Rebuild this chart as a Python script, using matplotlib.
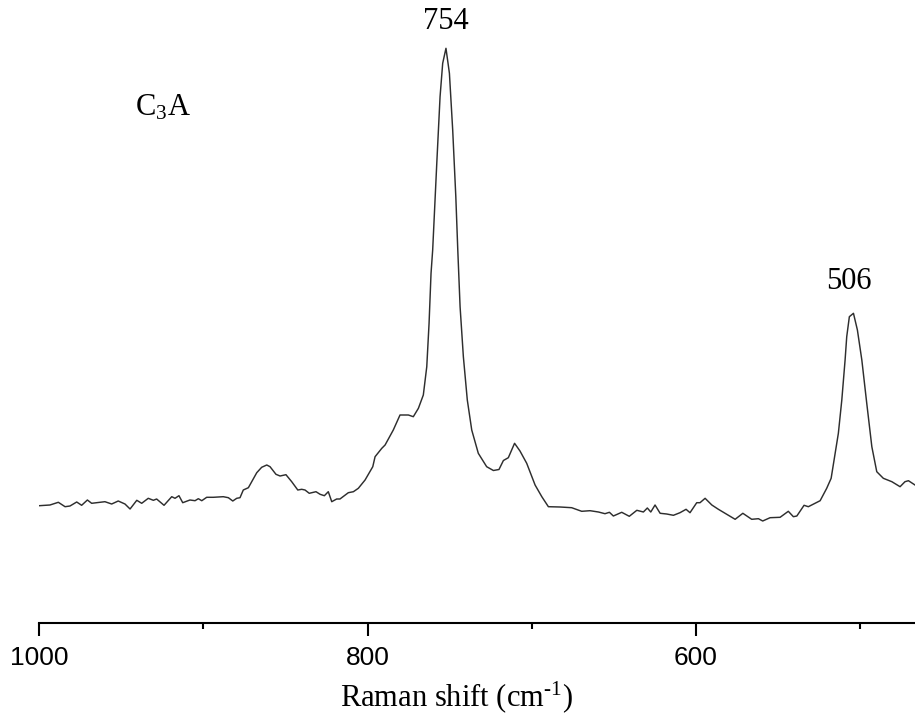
import matplotlib
matplotlib.use("Agg")
import matplotlib.pyplot as plt
from matplotlib.ticker import MultipleLocator

plt.rcParams['mathtext.fontset'] = 'custom'
plt.rcParams['mathtext.rm'] = 'Liberation Serif'
plt.rcParams['mathtext.it'] = 'Liberation Serif:italic'

# Raman spectrum of C3A (wavenumber in cm-1, intensity in a.u.)
wavenumber = [1000.0, 993.5, 988.4, 984.3, 981.3, 977.2, 974.2, 970.7, 968.1, 960.0,
              955.9, 951.9, 947.8, 944.7, 940.6, 937.6, 933.6, 930.5, 928.5, 924.0,
              919.3, 917.3, 914.9, 912.6, 908.2, 905.1, 903.1, 901.0, 898.0, 894.0,
              887.9, 884.8, 882.1, 879.7, 877.7, 875.7, 872.6, 867.5, 864.5, 861.4,
              859.4, 855.8, 853.3, 849.7, 846.2, 842.5, 840.1, 838.1, 835.5, 831.4,
              828.9, 826.3, 823.9, 821.8, 818.8, 816.8, 811.7, 808.6, 805.6, 801.5,
              796.8, 795.4, 791.3, 789.3, 784.3, 780.2, 775.1, 772.1, 769.0, 766.0,
              763.9, 762.5, 761.3, 760.3, 757.8, 755.8, 754.2, 752.2, 750.1, 748.1,
              746.2, 745.0, 743.6, 741.6, 739.2, 736.5, 732.5, 727.4, 723.3, 719.9,
              717.2, 714.2, 710.4, 707.1, 703.0, 697.9, 693.8, 689.8, 682.7, 675.6,
              669.5, 664.4, 659.3, 655.3, 652.6, 650.2, 645.1, 640.5, 635.9, 631.9,
              629.5, 627.4, 624.8, 621.7, 617.7, 613.6, 609.6, 605.9, 603.5, 599.4,
              597.4, 594.3, 590.2, 586.2, 581.1, 576.0, 571.3, 565.9, 561.8, 559.2,
              554.7, 548.6, 543.6, 540.5, 538.4, 534.0, 531.4, 524.2, 520.2, 517.5,
              513.1, 511.0, 509.0, 508.0, 506.4, 503.9, 501.5, 498.8, 495.8, 492.7,
              489.7, 485.7, 480.5, 475.5, 472.5, 470.4, 466.4]
intensity = [117.0, 117.7, 120.4, 116.0, 116.7, 120.7, 117.4, 122.7, 119.4, 121.0,
             118.7, 121.7, 118.7, 113.7, 122.4, 119.4, 124.4, 122.4, 123.7, 117.4,
             126.0, 124.4, 127.0, 120.0, 122.7, 122.0, 124.0, 122.0, 125.4, 125.4,
             126.0, 125.0, 121.7, 124.4, 125.0, 132.7, 135.0, 150.0, 155.4, 157.7,
             156.0, 148.4, 146.7, 148.0, 141.0, 132.7, 133.4, 132.7, 129.4, 131.0,
             128.4, 127.0, 131.0, 121.0, 123.7, 123.7, 130.0, 131.0, 134.4, 142.7,
             156.0, 166.0, 174.4, 177.7, 192.7, 207.7, 207.7, 206.0, 214.4, 227.7,
             256.0, 299.4, 349.4, 372.7, 459.4, 526.0, 559.4, 574.4, 549.4, 492.7,
             426.0, 372.7, 316.0, 266.0, 222.7, 192.7, 169.4, 156.0, 152.2, 153.2,
             162.2, 165.0, 179.4, 171.7, 159.4, 137.7, 126.0, 116.0, 115.7, 115.0,
             111.4, 112.0, 110.7, 109.0, 110.4, 106.7, 110.4, 106.4, 112.4, 110.7,
             114.7, 110.7, 117.7, 109.4, 108.7, 107.4, 110.0, 113.4, 110.0, 120.0,
             120.0, 124.4, 117.7, 113.4, 108.4, 103.4, 109.4, 103.4, 104.0, 101.7,
             105.0, 105.4, 111.4, 106.0, 106.7, 117.4, 116.0, 122.0, 134.4, 144.4,
             189.4, 222.7, 262.7, 286.0, 306.0, 309.4, 292.7, 262.7, 219.4, 176.0,
             151.0, 144.4, 141.0, 136.0, 141.0, 142.0, 137.7]

peak_labels = ["754", "506"]
peak_pos = [752.3, 506.6]
peak_text_y = [601.0, 341.7]
sample_label = r"C$_\mathrm{3}$A"
xlabel = r"Raman shift (cm$^{\text{-}1}$)"
xticks = [1000, 800, 600]

W, H = 915, 713
fig = plt.figure(figsize=(W / 100, H / 100), dpi=100)
ax = fig.add_axes([39.3 / W, (H - 622.7) / H, (W - 39.3) / W, 600 / H])

ax.plot(wavenumber, intensity, color='#2e2e2e', lw=1.05)
ax.set_xlim(1000, 466.4)
ax.set_ylim(0, 600)

for s in ['left', 'right', 'top']:
    ax.spines[s].set_visible(False)
ax.spines['bottom'].set_linewidth(1.5)
ax.set_yticks([])
ax.set_xticks(xticks)
ax.set_xticklabels([str(t) for t in xticks], fontfamily='Liberation Sans', fontsize=19)
ax.xaxis.set_minor_locator(MultipleLocator(100))
ax.tick_params(axis='x', which='major', direction='out', length=9, width=1.5, pad=8)
ax.tick_params(axis='x', which='minor', direction='out', length=4.5, width=1.5)

serif = 'Liberation Serif'
for lab, px, py in zip(peak_labels, peak_pos, peak_text_y):
    ax.text(px, py, lab, ha='center', va='center', fontfamily=serif, fontsize=22)

ax.text(941.7, 507, sample_label, ha='left', va='baseline', fontfamily=serif, fontsize=22)

fig.text(456.6 / W, 7 / H, xlabel, ha='center', va='baseline', fontfamily=serif, fontsize=22)

fig.savefig('out.png', dpi=100)
